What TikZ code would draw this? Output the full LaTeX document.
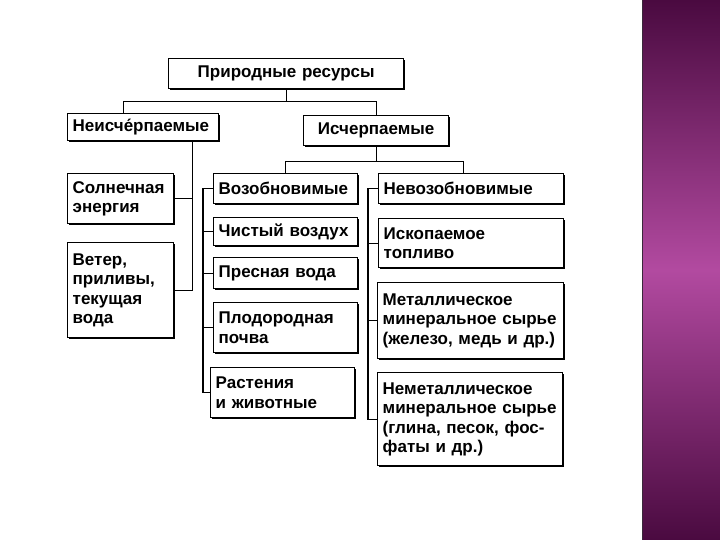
\documentclass[tikz,border=0pt]{standalone}
\usepackage{fontspec}
\setmainfont{Liberation Sans}
\usetikzlibrary{positioning,shadows}
\definecolor{PlumDark}{RGB}{74,10,64}
\definecolor{PlumLight}{RGB}{178,74,160}
\definecolor{PlumEdge}{RGB}{58,40,58}

\begin{document}
\begin{tikzpicture}[x=1pt,y=-1pt, every node/.style={font=\fontsize{17}{19.5}\selectfont\bfseries}]
\tikzset{
  resbox/.style={draw, line width=1.4pt, fill=white, anchor=north west, align=left,
    inner xsep=5pt, inner ysep=2pt,
    drop shadow={shadow xshift=1.4pt, shadow yshift=-1.4pt, fill=black, opacity=1}},
  link/.style={line width=1.2pt}
}
  \useasboundingbox (0,0) rectangle (720,540);
  % side band
  \shade[top color=PlumDark, bottom color=PlumDark, middle color=PlumLight] (642,0) rectangle (720,540);
  \draw[PlumEdge, line width=1.2pt] (642.6,0) -- (642.6,540);

  \node[resbox, align=center, text width=225pt, minimum height=30pt] (top) at (168,58) {Природные ресурсы};
  \node[resbox, text width=141pt, minimum height=27pt] (neisch) at (67,113) {Неисче́рпаемые};
  \node[resbox, align=center, text width=135pt, minimum height=30pt] (isch) at (303,115) {Исчерпаемые};

  \node[resbox, text width=96pt, minimum height=50pt] (solar) at (67,173) {Солнечная\\энергия};
  \node[resbox, text width=96pt, minimum height=95pt] (wind) at (67,242) {Ветер,\\приливы,\\текущая\\вода};

  \node[resbox, text width=134pt, minimum height=30pt] (vozob) at (213,173) {Возобновимые};
  \node[resbox, text width=134pt, minimum height=28pt] (air) at (213,217) {Чистый воздух};
  \node[resbox, text width=134pt, minimum height=31pt] (water) at (213,257) {Пресная вода};
  \node[resbox, text width=134pt, minimum height=50pt] (soil) at (213,302) {Плодородная\\почва};
  \node[resbox, text width=134pt, minimum height=50pt] (plants) at (210,367) {Растения\\и животные};

  \node[resbox, text width=175pt, minimum height=30pt] (nevozob) at (378,173) {Невозобновимые};
  \node[resbox, text width=175pt, minimum height=49pt] (fuel) at (378,218) {Ископаемое\\топливо};
  \node[resbox, text width=176pt, minimum height=76pt] (metal) at (377,282) {Металлическое\\минеральное сырье\\(железо, медь и др.)};
  \node[resbox, text width=175pt, minimum height=93pt] (nonmetal) at (377,372) {Неметаллическое\\минеральное сырье\\(глина, песок, фос-\\фаты и др.)};

  % first split
  \draw[link] (top.south) -- ++(0,12) coordinate (tj);
  \draw[link] ([xshift=-20pt]neisch.north) |- (tj) -| (isch.north);
  % inexhaustible
  \coordinate (lt) at ([xshift=49pt]neisch.south);
  \draw[link] (lt) |- (wind.east);
  \draw[link] (solar.east) -- (solar.east -| lt);
  % exhaustible
  \draw[link] (isch.south) -- ++(0,15) coordinate (ij);
  \draw[link] (vozob.north) |- (ij) -| ([xshift=-8pt]nevozob.north);
  \coordinate (lb) at ([xshift=-10pt]vozob.west);
  \draw[link] (vozob.west) -- (lb) |- (plants.west);
  \foreach \n in {air,water,soil}
    \draw[link] (\n.west) -- (\n.west -| lb);
  \coordinate (rb) at ([xshift=-10pt]nevozob.west);
  \draw[link] (nevozob.west) -- (rb) |- (nonmetal.west);
  \foreach \n in {fuel,metal}
    \draw[link] (\n.west) -- (\n.west -| rb);
\end{tikzpicture}
\end{document}
